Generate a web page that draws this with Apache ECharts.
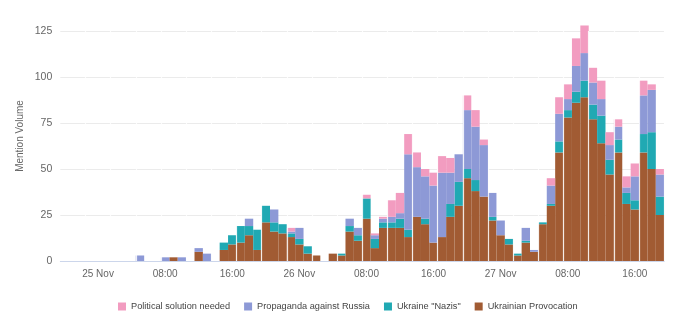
<!DOCTYPE html>
<html>
<head>
<meta charset="utf-8">
<script src="https://cdn.jsdelivr.net/npm/echarts@6/dist/echarts.min.js"></script>
<style>
html,body{margin:0;padding:0;background:#fff;}
#chart{width:673px;height:321px;}
</style>
</head>
<body>
<div id="chart"></div>
<script>
// hourly buckets: 24 Nov 20:00 ... 27 Nov 19:00
var days = ['24 Nov', '25 Nov', '26 Nov', '27 Nov'];
var categories = [];
for (var d = 0; d < days.length; d++) {
  for (var hh = 0; hh < 24; hh++) {
    if (d === 0 && hh < 20) continue;
    if (d === 3 && hh > 19) continue;
    categories.push(days[d] + ' ' + (hh < 10 ? '0' : '') + hh + ':00');
  }
}
var tickLabels = ['25 Nov', '08:00', '16:00', '26 Nov', '08:00', '16:00', '27 Nov', '08:00', '16:00'];
var yTicks = [0, 25, 50, 75, 100, 125];

var provocation = [0,0,0,0, 0,0,0,0,0,0,0,0,0,2,0,0,5,0,0,6,9,10,14,6,21,16,15,13,9,4,3,0,4,3,16,11,23,7,18,18,18,13,24,20,10,13,24,30,45,38,35,22,14,9,3,10,5,20,30,59,78,86,89,77,64,47,59,31,28,59,50,25];
var nazis       = [0,0,0,0, 0,0,0,0,0,0,0,0,0,0,0,0,0,0,0,4,5,9,5,11,9,5,5,2,3,4,0,0,0,1,3,3,11,5,3,3,5,4,0,3,0,0,7,13,5,6,0,2,0,3,1,1,0,1,1,6,4,6,9,8,15,8,7,6,5,10,20,10];
var propaganda  = [0,0,0,0, 0,0,0,0,0,3,0,0,2,0,2,0,2,4,0,0,0,0,4,0,0,7,0,1,6,0,0,0,0,0,4,4,0,2,2,3,3,41,27,23,31,35,17,15,32,29,28,13,8,0,0,7,1,0,10,15,6,14,15,12,9,8,7,3,13,21,23,12];
var political   = [0,0,0,0, 0,0,0,0,0,0,0,0,0,0,0,0,0,0,0,0,0,0,0,0,0,0,0,2,0,0,0,0,0,0,0,0,2,1,1,9,11,11,8,4,7,9,8,0,8,9,3,0,0,0,0,0,0,0,4,9,8,15,15,8,10,7,4,6,7,8,3,3];

var seriesNames = ['Ukrainian Provocation', 'Ukraine "Nazis"', 'Propaganda against Russia', 'Political solution needed'];
var seriesData = [provocation, nazis, propaganda, political];
var seriesColors = ['#a15b33', '#20a9b3', '#8d99d6', '#f29cc0'];
var legendOrder = ['Political solution needed', 'Propaganda against Russia', 'Ukraine "Nazis"', 'Ukrainian Provocation'];

var chart = echarts.init(document.getElementById('chart'), null, {renderer: 'canvas'});
var FONT = 'Liberation Sans, Arial, sans-serif';

var series = seriesNames.map(function (name, i) {
  return {
    name: name,
    type: 'bar',
    stack: 'total',
    data: seriesData[i],
    barCategoryGap: '0%',
    clip: false,
    itemStyle: {color: seriesColors[i]},
    emphasis: {disabled: true}
  };
});

chart.setOption({
  animation: false,
  backgroundColor: '#fff',
  grid: {left: 60.3, right: 8.8, top: 31, bottom: 60, containLabel: false, outerBoundsMode: 'none'},
  legend: {
    data: legendOrder,
    left: 113,
    top: 297,
    icon: 'rect',
    itemWidth: 8,
    itemHeight: 8,
    itemGap: 14,
    selectedMode: false,
    textStyle: {fontFamily: FONT, fontSize: 9.2, color: '#444'}
  },
  graphic: [{
    type: 'text',
    x: 20,
    y: 136,
    rotation: Math.PI / 2,
    style: {text: 'Mention Volume', fontFamily: FONT, fontSize: 10, fill: '#666', align: 'center', verticalAlign: 'middle'}
  }],
  xAxis: {
    type: 'category',
    data: categories,
    z: 3,
    boundaryGap: true,
    axisLine: {lineStyle: {color: '#ccd6eb'}},
    axisTick: {show: false},
    splitLine: {
      show: true,
      interval: function (index) { return index % 3 === 0 && index > 0; },
      lineStyle: {color: '#ffffff', width: 1.2, opacity: 0.85}
    },
    axisLabel: {
      interval: function (index) { return (index - 4) % 8 === 0; },
      formatter: function (value, index) { return tickLabels[(index - 4) / 8]; },
      fontFamily: FONT,
      fontSize: 10,
      color: '#666',
      margin: 8
    }
  },
  yAxis: {
    type: 'value',
    min: yTicks[0],
    max: yTicks[yTicks.length - 1],
    interval: 25,
    axisLine: {show: false},
    axisTick: {show: false},
    splitLine: {lineStyle: {color: '#ebebeb'}},
    axisLabel: {fontFamily: FONT, fontSize: 10.5, color: '#666', margin: 8}
  },
  series: series
});
</script>
</body>
</html>
